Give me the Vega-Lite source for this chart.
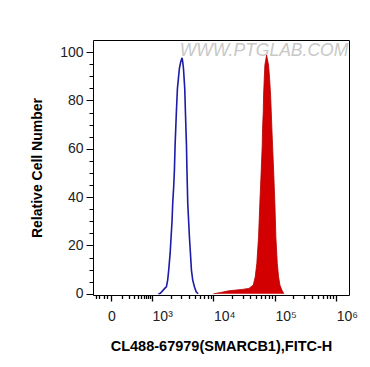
{
  "$schema": "https://vega.github.io/schema/vega-lite/v6.json",
  "autosize": "none",
  "width": 256,
  "height": 255,
  "padding": {"left": 93, "top": 40, "right": 21, "bottom": 72},
  "background": "white",
  "config": {
    "view": {"stroke": "black", "strokeWidth": 1},
    "font": "Liberation Sans"
  },
  "datasets": {
    "hist": [
      {"series": "control", "d": 3.103, "count": 0},
      {"series": "control", "d": 3.135, "count": 0.17},
      {"series": "control", "d": 3.206, "count": 2.23},
      {"series": "control", "d": 3.233, "count": 2.9},
      {"series": "control", "d": 3.254, "count": 5.67},
      {"series": "control", "d": 3.271, "count": 9.8},
      {"series": "control", "d": 3.294, "count": 16.7},
      {"series": "control", "d": 3.310, "count": 23.6},
      {"series": "control", "d": 3.326, "count": 30.5},
      {"series": "control", "d": 3.336, "count": 37.4},
      {"series": "control", "d": 3.352, "count": 44.3},
      {"series": "control", "d": 3.364, "count": 51.2},
      {"series": "control", "d": 3.375, "count": 61.5},
      {"series": "control", "d": 3.396, "count": 75.3},
      {"series": "control", "d": 3.413, "count": 85.0},
      {"series": "control", "d": 3.429, "count": 89.1},
      {"series": "control", "d": 3.445, "count": 93.3},
      {"series": "control", "d": 3.467, "count": 96.0},
      {"series": "control", "d": 3.489, "count": 97.6},
      {"series": "control", "d": 3.499, "count": 96.0},
      {"series": "control", "d": 3.511, "count": 93.3},
      {"series": "control", "d": 3.532, "count": 85.0},
      {"series": "control", "d": 3.543, "count": 75.3},
      {"series": "control", "d": 3.560, "count": 61.5},
      {"series": "control", "d": 3.568, "count": 51.2},
      {"series": "control", "d": 3.581, "count": 37.4},
      {"series": "control", "d": 3.608, "count": 23.6},
      {"series": "control", "d": 3.625, "count": 16.7},
      {"series": "control", "d": 3.641, "count": 9.8},
      {"series": "control", "d": 3.662, "count": 5.67},
      {"series": "control", "d": 3.690, "count": 2.9},
      {"series": "control", "d": 3.718, "count": 0.8},
      {"series": "control", "d": 3.750, "count": 0},
      {"series": "stained", "d": 4.0, "count": 0},
      {"series": "stained", "d": 4.114, "count": 0.5},
      {"series": "stained", "d": 4.250, "count": 1.24},
      {"series": "stained", "d": 4.468, "count": 1.82},
      {"series": "stained", "d": 4.576, "count": 2.23},
      {"series": "stained", "d": 4.648, "count": 3.6},
      {"series": "stained", "d": 4.680, "count": 7.0},
      {"series": "stained", "d": 4.706, "count": 12.6},
      {"series": "stained", "d": 4.734, "count": 23.6},
      {"series": "stained", "d": 4.755, "count": 37.4},
      {"series": "stained", "d": 4.778, "count": 51.2},
      {"series": "stained", "d": 4.794, "count": 61.5},
      {"series": "stained", "d": 4.799, "count": 68.4},
      {"series": "stained", "d": 4.811, "count": 75.3},
      {"series": "stained", "d": 4.816, "count": 82.2},
      {"series": "stained", "d": 4.827, "count": 89.1},
      {"series": "stained", "d": 4.837, "count": 94.6},
      {"series": "stained", "d": 4.865, "count": 98.8},
      {"series": "stained", "d": 4.897, "count": 94.6},
      {"series": "stained", "d": 4.914, "count": 89.1},
      {"series": "stained", "d": 4.930, "count": 82.2},
      {"series": "stained", "d": 4.941, "count": 75.3},
      {"series": "stained", "d": 4.951, "count": 68.4},
      {"series": "stained", "d": 4.962, "count": 61.5},
      {"series": "stained", "d": 4.979, "count": 51.2},
      {"series": "stained", "d": 5.000, "count": 37.4},
      {"series": "stained", "d": 5.016, "count": 23.6},
      {"series": "stained", "d": 5.039, "count": 12.6},
      {"series": "stained", "d": 5.060, "count": 7.0},
      {"series": "stained", "d": 5.082, "count": 3.6},
      {"series": "stained", "d": 5.114, "count": 1.53},
      {"series": "stained", "d": 5.147, "count": 0}
    ]
  },
  "layer": [
    {
      "data": {"values": [{"label": "WWW.PTGLAB.COM", "d": 4.822, "count": 100.3}]},
      "mark": {"type": "text", "font": "Liberation Sans", "fontStyle": "italic", "fontSize": 17.5, "color": "#c8c8c8", "align": "center", "baseline": "middle"},
      "encoding": {
        "text": {"field": "label", "type": "nominal"}
      }
    },
    {
      "data": {"name": "hist"},
      "transform": [{"filter": "datum.series === 'stained'"}],
      "mark": {"type": "area", "color": "#d20000", "opacity": 1, "clip": true, "line": {"color": "#b30000", "strokeWidth": 0.8}}
    },
    {
      "data": {"name": "hist"},
      "transform": [{"filter": "datum.series === 'control'"}],
      "mark": {"type": "line", "color": "#1c1ca6", "strokeWidth": 1.6, "clip": true}
    }
  ],
  "encoding": {
    "x": {
      "field": "d",
      "type": "quantitative",
      "scale": {"domain": [2.038, 6.207], "nice": false, "zero": false},
      "axis": {
        "title": "CL488-67979(SMARCB1),FITC-H",
        "titleFont": "Liberation Sans",
        "titleFontWeight": "bold",
        "titleFontSize": 14.5,
        "titleColor": "#000",
        "titlePadding": 16,
        "grid": false,
        "domain": false,
        "values": [2.09, 2.14, 2.22, 2.27, 2.336, 2.511, 2.618, 2.70, 2.765, 2.82, 2.863, 2.902, 2.935, 2.961, 3, 3.301, 3.477, 3.602, 3.699, 3.778, 3.845, 3.903, 3.954, 4, 4.301, 4.477, 4.602, 4.699, 4.778, 4.845, 4.903, 4.954, 5, 5.301, 5.477, 5.602, 5.699, 5.778, 5.845, 5.903, 5.954, 6],
        "labelExpr": "abs(datum.value - 2.336) < 0.001 ? '0' : datum.value == 3 ? '10³' : datum.value == 4 ? '10⁴' : datum.value == 5 ? '10⁵' : datum.value == 6 ? '10⁶' : ''",
        "labelFont": "Liberation Sans",
        "labelFontSize": 14,
        "labelColor": "#222",
        "labelPadding": 8,
        "labelOverlap": false,
        "labelFlush": false,
        "labelAlign": {"condition": {"test": "abs(datum.value - 2.336) < 0.001", "value": "center"}, "value": "left"},
        "tickColor": "#000",
        "tickWidth": 1.3,
        "tickSize": {"condition": {"test": "abs(datum.value - 2.336) < 0.001 || datum.value == 3 || datum.value == 4 || datum.value == 5 || datum.value == 6", "value": 6}, "value": 3.5}
      }
    },
    "y": {
      "field": "count",
      "type": "quantitative",
      "scale": {"domain": [-0.5, 105], "nice": false, "zero": false},
      "axis": {
        "title": "Relative Cell Number",
        "titleFont": "Liberation Sans",
        "titleFontWeight": "bold",
        "titleFontSize": 14,
        "titleColor": "#000",
        "titlePadding": 15,
        "grid": false,
        "domain": false,
        "values": [0, 5, 10, 15, 20, 25, 30, 35, 40, 45, 50, 55, 60, 65, 70, 75, 80, 85, 90, 95, 100],
        "labelExpr": "datum.value % 20 === 0 ? datum.label : ''",
        "labelFont": "Liberation Sans",
        "labelFontSize": 14,
        "labelColor": "#222",
        "labelPadding": 3,
        "tickColor": "#000",
        "tickWidth": 1,
        "tickSize": {"condition": {"test": "datum.value % 20 === 0", "value": 7}, "value": 4}
      }
    }
  }
}
